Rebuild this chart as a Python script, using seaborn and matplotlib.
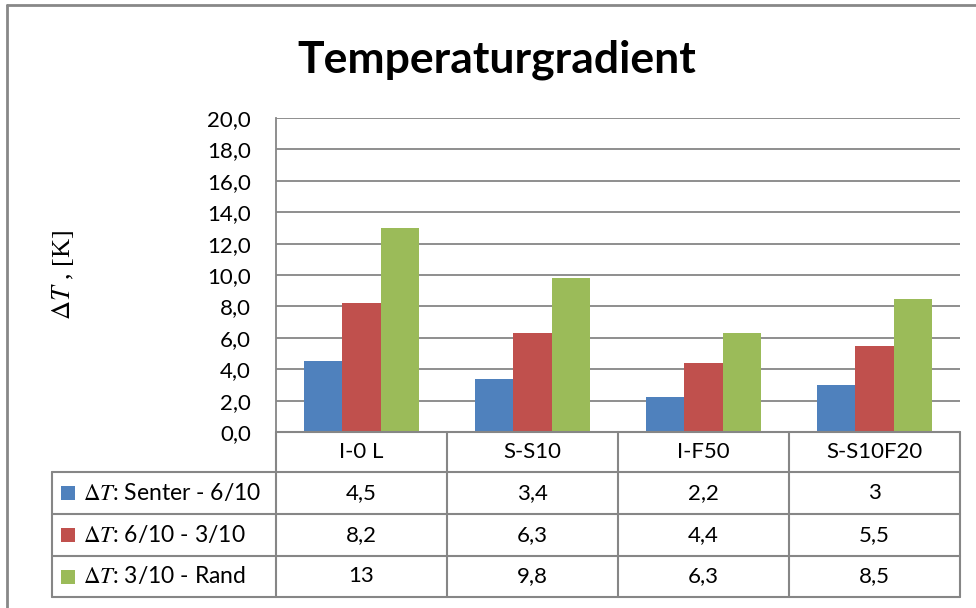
import matplotlib
matplotlib.use("Agg")
import matplotlib.pyplot as plt
from matplotlib.lines import Line2D
from matplotlib.patches import Rectangle
import matplotlib.transforms as mtransforms
import seaborn as sns
import pandas as pd

# ---- data ----
categories = ["I-0 L", "S-S10", "I-F50", "S-S10F20"]
series_names = [r"$\Delta T$: Senter - 6/10", r"$\Delta T$: 6/10 - 3/10", r"$\Delta T$: 3/10 - Rand"]
senter_6_10 = [4.5, 3.4, 2.2, 3.0]
s6_10_3_10 = [8.2, 6.3, 4.4, 5.5]
s3_10_rand = [13.0, 9.8, 6.3, 8.5]
table_text = [["4,5", "3,4", "2,2", "3"],
              ["8,2", "6,3", "4,4", "5,5"],
              ["13", "9,8", "6,3", "8,5"]]
yticks = [0, 2, 4, 6, 8, 10, 12, 14, 16, 18, 20]
colors = ["#4F81BD", "#C0504D", "#9BBB59"]
title = "Temperaturgradient"
ylabel = r"$\Delta T$ , [K]"

sns.set_theme(style="white")
plt.rcParams["font.family"] = ["Lato", "DejaVu Sans"]
plt.rcParams["mathtext.fontset"] = "stix"
plt.rcParams["text.color"] = "black"
plt.rcParams["ytick.color"] = "black"

W, H = 976, 608
fig = plt.figure(figsize=(W / 100, H / 100), dpi=100)
fig.patch.set_facecolor("white")

def fx(x):
    return x / W

def fy(y):
    return 1 - y / H

FS = 16

ax_l, ax_r, ax_t, ax_b = 276, 960, 118, 432
ax = fig.add_axes([fx(ax_l), fy(ax_b), (ax_r - ax_l) / W, (ax_b - ax_t) / H])

rows = []
for name, vals in zip(series_names, [senter_6_10, s6_10_3_10, s3_10_rand]):
    for c, v in zip(categories, vals):
        rows.append({"cat": c, "val": v, "series": name})
df = pd.DataFrame(rows)

sns.barplot(data=df, x="cat", y="val", hue="series", palette=colors, ax=ax,
            width=0.667, gap=0, linewidth=0, saturation=1, legend=False)

ax.set_xlim(-0.5, len(categories) - 0.5)
ax.set_ylim(0, 20)
ax.set_yticks(yticks)
ax.set_yticklabels([f"{t:.1f}".replace(".", ",") for t in yticks], fontsize=FS, color="black")
ax.tick_params(axis="y", length=0, pad=18.0)
ax.set_xticks([])
ax.set_xlabel("")
ax.set_ylabel("")
gridc = "#868686"
ax.yaxis.grid(True, color=gridc, linewidth=1.3)
ax.set_axisbelow(True)
for s in ["top", "right", "bottom"]:
    ax.spines[s].set_visible(False)
ax.spines["left"].set_color(gridc)
ax.spines["left"].set_linewidth(1.3)

# ---- data table ----
lw = 1.5
row_lines = [432, 472, 514, 556, 597]
tab_left = 52
blend = mtransforms.blended_transform_factory(ax.transData, fig.transFigure)
fig.add_artist(Line2D([fx(ax_l), fx(ax_r)], [fy(432)] * 2, color=gridc, lw=lw))
for y in row_lines[1:]:
    fig.add_artist(Line2D([fx(tab_left), fx(ax_r)], [fy(y)] * 2, color=gridc, lw=lw))
fig.add_artist(Line2D([fx(tab_left)] * 2, [fy(472), fy(597)], color=gridc, lw=lw))
for i in range(len(categories) + 1):
    xb = i - 0.5
    fig.add_artist(Line2D([xb, xb], [fy(432), fy(597)], color=gridc, lw=lw, transform=blend))
for i, c in enumerate(categories):
    fig.text(i, fy(452), c, transform=blend, ha="center", va="center", fontsize=FS, color="black")
row_centers = [(row_lines[k] + row_lines[k + 1]) / 2 for k in range(1, 4)]
for r, (name, col) in enumerate(zip(series_names, colors)):
    yc = row_centers[r]
    for i in range(len(categories)):
        fig.text(i, fy(yc), table_text[r][i], transform=blend, ha="center", va="center",
                 fontsize=FS, color="black")
    fig.add_artist(Rectangle((fx(61), fy(yc + 7)), 14 / W, 14 / H, transform=fig.transFigure,
                             facecolor=col, edgecolor="none"))
    fig.text(fx(83), fy(yc), name, ha="left", va="center", fontsize=FS + 0.5, color="black")

# ---- titles ----
fig.text(fx(497), fy(73), title, ha="center", va="baseline", fontsize=32, fontweight="bold",
         color="black")
fig.text(fx(63), fy(275), ylabel, ha="center", va="center", rotation=90, fontsize=19,
         family=["Liberation Serif", "DejaVu Serif"], color="black")

# ---- outer border ----
fig.add_artist(Line2D([fx(7), fx(7)], [fy(5), 0], color="#888888", lw=2))
fig.add_artist(Line2D([fx(7), 1], [fy(5), fy(5)], color="#888888", lw=2))

fig.savefig("out.png", dpi=100)
